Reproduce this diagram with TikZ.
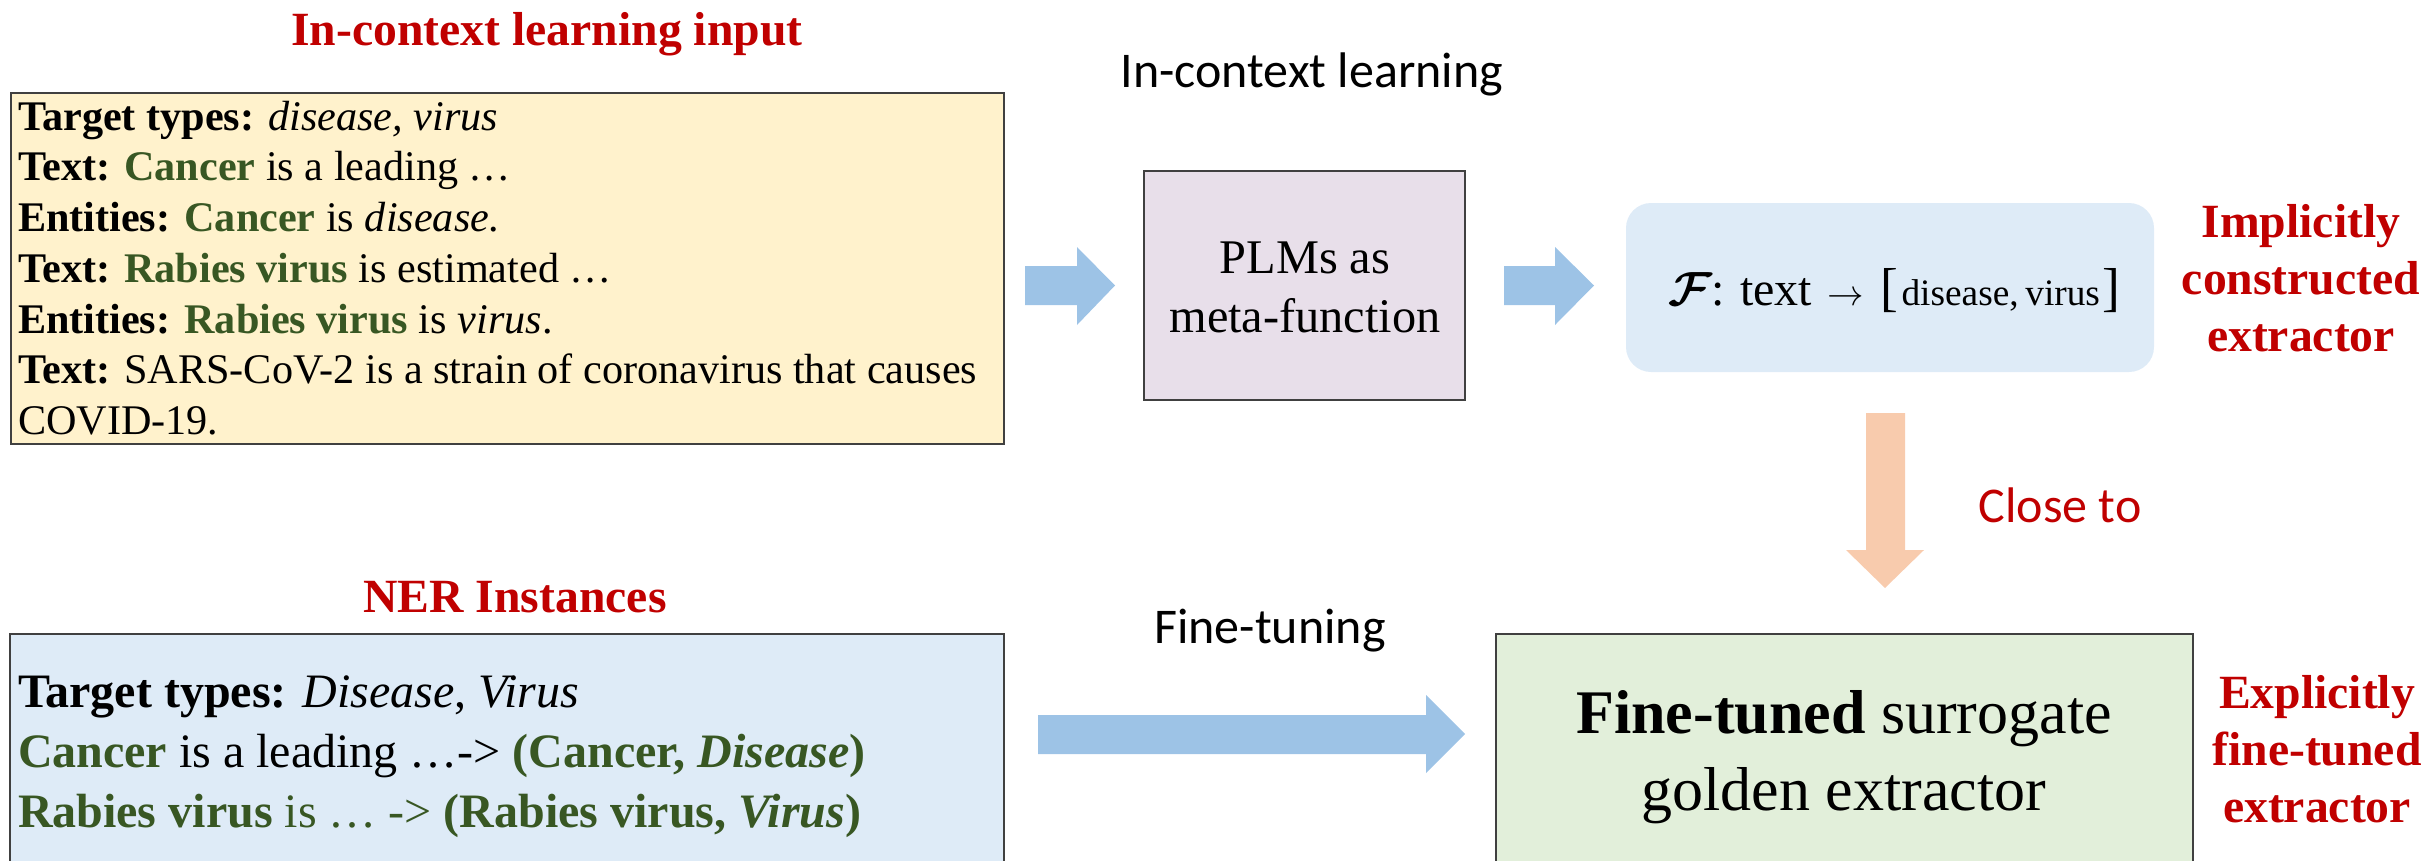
\documentclass[tikz,border=0pt]{standalone}
\usepackage{fontspec}
\setmainfont{LiberationSerif}[Extension=.ttf, UprightFont=*-Regular, BoldFont=*-Bold, ItalicFont=*-Italic, BoldItalicFont=*-BoldItalic]
\newfontfamily\calibri{Carlito}
\usepackage{bm}
\definecolor{tred}{HTML}{C00000}
\definecolor{tgreen}{HTML}{385723}
\definecolor{yfill}{HTML}{FFF2CC}
\definecolor{bfill}{HTML}{DEEBF7}
\definecolor{pfill}{HTML}{E8DFEA}
\definecolor{gfill}{HTML}{E2EFDA}
\definecolor{barrow}{HTML}{9DC3E6}
\definecolor{oarrow}{HTML}{F8CBAD}
\definecolor{edge}{HTML}{404040}
\newcommand\leftlines[2]{\vtop{\baselineskip=#1\lineskiplimit=-\maxdimen\lineskip=0pt\halign{##\hfil\cr#2\crcr}}}
\newcommand\centerlines[2]{\vtop{\baselineskip=#1\lineskiplimit=-\maxdimen\lineskip=0pt\halign{\hfil##\hfil\cr#2\crcr}}}
\tikzset{
  panel/.style={rectangle, inner sep=0pt, outer sep=0pt, draw=edge, line width=0.6pt},
  txt/.style={inner sep=0pt, outer sep=0pt},
  redlabel/.style={txt, anchor=base, text=tred, font=\fontsize{14.3}{17}\selectfont\bfseries},
  callabel/.style={txt, anchor=base, font=\calibri\fontsize{15}{18}\selectfont},
}
\begin{document}
\begin{tikzpicture}[x=0.3pt,y=-0.3pt]
\useasboundingbox (0,0) rectangle (2427,860);
\clip (0,0) rectangle (2427,860);

% boxes
\node[panel, fill=yfill, minimum width=297.9pt, minimum height=105.3pt] (icl) at (507.5,268.5) {};
\node[panel, fill=bfill, minimum width=298.2pt, minimum height=97.8pt] (ner) at (507,797) {};
\node[panel, fill=pfill, minimum width=96.3pt, minimum height=68.7pt] (plm) at (1304.5,285.5) {};
\node[rectangle, rounded corners=7.5pt, fill=bfill, inner sep=0pt, minimum width=158.4pt, minimum height=50.7pt] (fun) at (1890,287.5) {};
\node[panel, fill=gfill, minimum width=209.1pt, minimum height=97.8pt] (gold) at (1844.5,797) {};

% titles
\node[redlabel] (t1) at (547,45) {In-context learning input};
\node[redlabel] (t2) at (515,612) {NER Instances};

% yellow text
\node[txt, anchor=base west, font=\fontsize{12.66}{15.24}\selectfont] (icltext) at (18,130) {\leftlines{15.24pt}{%
\textbf{Target types:} \textit{disease, virus}\cr
\textbf{Text: \textcolor{tgreen}{Cancer}} is a leading …\cr
\textbf{Entities: \textcolor{tgreen}{Cancer}} is \textit{disease.}\cr
\textbf{Text: \textcolor{tgreen}{Rabies virus}} is estimated …\cr
\textbf{Entities: \textcolor{tgreen}{Rabies virus}} is \textit{virus}.\cr
\textbf{Text:} SARS-CoV-2 is a strain of coronavirus that causes\cr
COVID-19.}};

% NER text
\node[txt, anchor=base west, font=\fontsize{14.4}{18}\selectfont] (nertext) at (18,707) {\leftlines{18pt}{%
\textbf{Target types:} \textit{Disease}, \textit{Virus}\cr
\textcolor{tgreen}{\textbf{Cancer}} is a leading …-> \textcolor{tgreen}{\textbf{(Cancer, \textit{Disease})}}\cr
\textcolor{tgreen}{\textbf{Rabies virus} is … -> \textbf{(Rabies virus, \textit{Virus})}}}};

% PLMs text
\node[txt, anchor=base, font=\fontsize{14.5}{17.7}\selectfont] (plmtext) at (1305,273) {\centerlines{17.7pt}{PLMs as\cr meta-function}};

% function text
\node[txt, anchor=base west, font=\fontsize{14.4}{17}\selectfont] (funtext) at (1668,305) {\mbox{$\bm{\mathcal{F}}$:\hspace{4.5pt}text\hspace{4.5pt}{\fontsize{11}{11}\selectfont$\rightarrow$}\hspace{5pt}{\fontsize{16}{16}\selectfont[}\hspace{1pt}{\fontsize{11.2}{14}\selectfont disease,\hspace{2pt}virus}\hspace{0.8pt}{\fontsize{16}{16}\selectfont]}}};

% right labels
\node[redlabel] (impl) at (2301,237) {\centerlines{17.1pt}{Implicitly\cr constructed\cr extractor}};
\node[redlabel] (expl) at (2317,708) {\centerlines{17.1pt}{Explicitly\cr fine-tuned\cr extractor}};

% green text
\node[txt, anchor=base, font=\fontsize{18.6}{23.1}\selectfont] (goldtext) at (1844,733) {\centerlines{23.1pt}{\textbf{Fine-tuned} surrogate\cr golden extractor}};

% calibri labels
\node[callabel] (lbl1) at (1312,87) {In-context learning};
\node[callabel] (lbl2) at (1270,643) {Fine-tuning};
\node[callabel, text=tred] (lbl3) at (2060,522) {Close to};

% block arrows
\fill[barrow] (1025,266) -- (1077,266) -- (1077,247) -- (1115,285.5) -- (1077,325) -- (1077,305) -- (1025,305) -- cycle;
\fill[barrow] (1504,266) -- (1555,266) -- (1555,247) -- (1594,285.5) -- (1555,325) -- (1555,305) -- (1504,305) -- cycle;
\fill[barrow] (1038,715) -- (1426,715) -- (1426,695) -- (1465,734) -- (1426,773) -- (1426,754) -- (1038,754) -- cycle;
\fill[oarrow] (1866,413) -- (1905,413) -- (1905,550) -- (1924,550) -- (1885,588) -- (1846,550) -- (1866,550) -- cycle;
\end{tikzpicture}
\end{document}
